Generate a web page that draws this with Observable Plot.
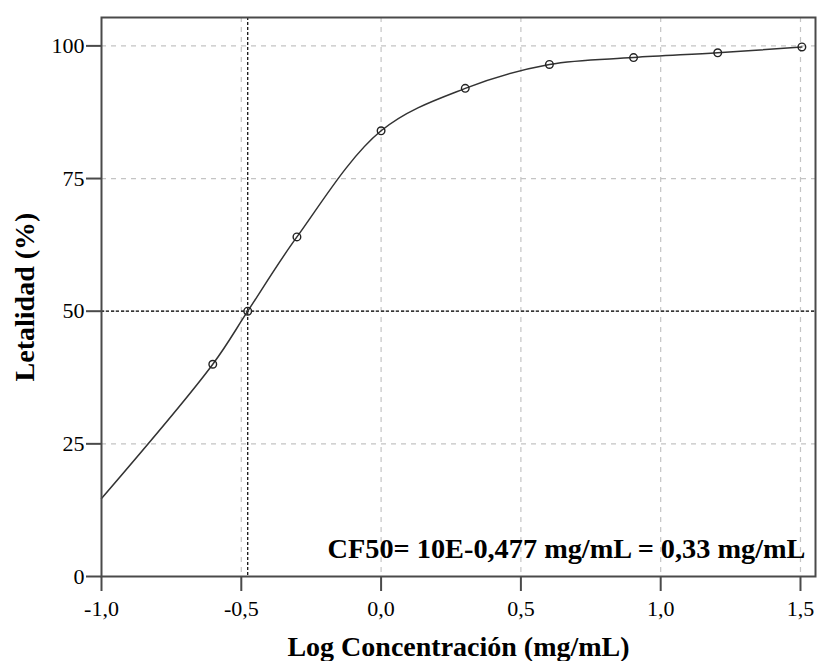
<!DOCTYPE html>
<html>
<head>
<meta charset="utf-8">
<script src="https://cdn.jsdelivr.net/npm/d3@7"></script>
<script src="https://cdn.jsdelivr.net/npm/@observablehq/plot@0.6"></script>
<style>
  html, body { margin: 0; padding: 0; background: #fff; }
  #chart svg, #chart svg text { font-family: "Liberation Serif", "Times New Roman", "DejaVu Serif", serif !important; }
</style>
</head>
<body>
<div id="chart"></div>
<script>
// Data
const logConc = [-0.602, -0.477, -0.301, 0.0, 0.301, 0.602, 0.903, 1.204, 1.505];
const letalidad = [40, 50, 64, 84, 92, 96.5, 97.8, 98.7, 99.8];
// fitted curve: starts at the left edge of the plot
const curveX = [-1.0, ...logConc];
const curveY = [14.7, ...letalidad];
const xTicks = [-1.0, -0.5, 0.0, 0.5, 1.0, 1.5];
const yTicks = [0, 25, 50, 75, 100];
const cf50X = -0.477;
const refY = 50;
const annotation = "CF50= 10E-0,477 mg/mL = 0,33 mg/mL";
const xTitle = "Log Concentración (mg/mL)";
const yTitle = "Letalidad (%)";

const points = logConc.map((x, i) => ({x, y: letalidad[i]}));
const curve = curveX.map((x, i) => ({x, y: curveY[i]}));
const axisColor = "#4a4a4a";

const chart = Plot.plot({
  width: 818,
  height: 661,
  marginLeft: 101,
  marginRight: 3,
  marginTop: 17,
  marginBottom: 85,
  style: {background: "#fff", color: "#000"},
  x: {domain: [-1.0, 1.5537]},
  y: {domain: [0, 105.35]},
  marks: [
    Plot.gridX(xTicks.filter(d => d !== -1.0), {stroke: "#c4c4c4", strokeOpacity: 1, strokeWidth: 1.2, strokeDasharray: "5,5"}),
    Plot.gridY(yTicks.filter(d => d !== 0), {stroke: "#c4c4c4", strokeOpacity: 1, strokeWidth: 1.2, strokeDasharray: "5,5"}),
    Plot.ruleX([cf50X], {stroke: "#000", strokeWidth: 1.2, strokeDasharray: "3,2"}),
    Plot.ruleY([refY], {stroke: "#000", strokeWidth: 1.2, strokeDasharray: "3,2"}),
    Plot.line(curve, {x: "x", y: "y", curve: "catmull-rom", stroke: "#333", strokeWidth: 1.5}),
    Plot.dot(points, {x: "x", y: "y", r: 3.8, stroke: "#222", strokeWidth: 1.4, fill: "none"}),
    Plot.frame({stroke: axisColor, strokeWidth: 2}),
    Plot.axisX(xTicks, {
      tickSize: 15, tickPadding: 9, stroke: axisColor, strokeWidth: 2,
      tickFormat: d => d.toFixed(1).replace(".", ","),
      fontSize: 22, label: null
    }),
    Plot.axisY(yTicks, {
      tickSize: 15, tickPadding: 2, stroke: axisColor, strokeWidth: 2,
      tickFormat: d => String(d),
      fontSize: 22, label: null
    }),
    Plot.text([annotation], {
      frameAnchor: "bottom-right", textAnchor: "end", lineAnchor: "middle",
      dx: -10, dy: -28, fontSize: 28.3, fontWeight: "bold", fill: "#000"
    }),
    Plot.text([xTitle], {
      frameAnchor: "bottom", textAnchor: "middle", lineAnchor: "middle", dy: 71,
      fontSize: 28, fontWeight: "bold", fill: "#000"
    }),
    Plot.text([yTitle], {
      frameAnchor: "left", textAnchor: "middle", lineAnchor: "middle", rotate: -90, dx: -76,
      fontSize: 28, fontWeight: "bold", fill: "#000"
    })
  ]
});
document.getElementById("chart").appendChild(chart);
</script>
</body>
</html>
